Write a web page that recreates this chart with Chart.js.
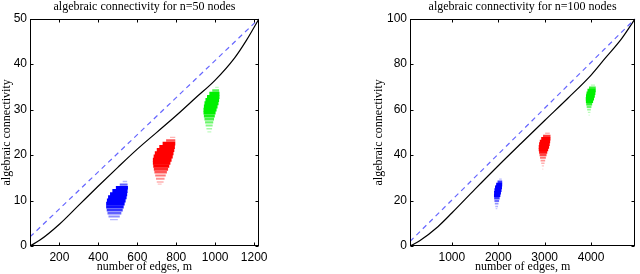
<!DOCTYPE html>
<html><head><meta charset="utf-8">
<script src="https://cdn.jsdelivr.net/npm/chart.js@4/dist/chart.umd.min.js"></script>
<style>
html,body{margin:0;padding:0;background:#fff;}
#wrap{position:relative;width:640px;height:274px;overflow:hidden;}
.box{position:absolute;top:0;width:320px;height:274px;}
canvas{display:block;}
</style></head><body>
<div id="wrap">
  <div class="box" style="left:0"><canvas id="c1" width="320" height="274"></canvas></div>
  <div class="box" style="left:320px"><canvas id="c2" width="320" height="274"></canvas></div>
</div>
<script>
// ---------- data ----------
const n50Title = 'algebraic connectivity for n=50 nodes';
const n100Title = 'algebraic connectivity for n=100 nodes';
const xTitle = 'number of edges, m';
const yTitle = 'algebraic connectivity';

const n50EdgeTicks = [200, 400, 600, 800, 1000, 1200];
const n50ConnTicks = [0, 10, 20, 30, 40, 50];
const n100EdgeTicks = [1000, 2000, 3000, 4000];
const n100ConnTicks = [0, 20, 40, 60, 80, 100];

const n50EdgeRange = [49, 1225];
const n50ConnRange = [0, 50];
const n100EdgeRange = [99, 4950];
const n100ConnRange = [0, 100];

// solid black curve
const n50BoundEdges = [49, 100, 200, 300, 400, 500, 600, 700, 800, 900, 1000, 1100, 1161, 1225];
const n50BoundConn  = [0, 1.3, 4.8, 9.0, 13.2, 17.3, 21.3, 25.0, 28.7, 32.6, 36.5, 41.4, 45.3, 50];
const n100BoundEdges = [99, 300, 700, 1000, 1500, 2000, 2500, 3000, 3500, 4000, 4300, 4650, 4950];
const n100BoundConn  = [0, 2.2, 8.5, 14.5, 25, 35.3, 45.3, 55.2, 65, 75.2, 82.5, 91, 100];

// blue dashed line
const n50RatioEdges = [49, 1225];
const n50RatioConn  = [2, 50];
const n100RatioEdges = [99, 4950];
const n100RatioConn  = [2, 100];

// sample clouds, rows: [connectivity, edges low, edges high, relative density]
const n50Blue = [
  [14.2, 525, 548, 0.15], [13.5, 510, 550, 0.45], [12.8, 490, 552, 0.85], [12.1, 472, 550, 1],
  [11.4, 460, 548, 1], [10.7, 450, 545, 1], [10.0, 444, 540, 1], [9.3, 440, 535, 0.9],
  [8.6, 440, 530, 0.75], [7.9, 443, 525, 0.6], [7.2, 447, 518, 0.45], [6.5, 452, 510, 0.3],
  [5.8, 460, 500, 0.15]
];
const n50Red = [
  [23.9, 768, 795, 0.15], [23.2, 748, 795, 0.5], [22.5, 730, 795, 0.9], [21.8, 713, 793, 1],
  [21.1, 700, 790, 1], [20.4, 690, 786, 1], [19.7, 684, 782, 1], [19.0, 680, 776, 1],
  [18.3, 680, 770, 0.9], [17.6, 682, 764, 0.8], [16.9, 685, 758, 0.65], [16.2, 688, 752, 0.5],
  [15.5, 692, 746, 0.38], [14.8, 696, 740, 0.28], [14.1, 700, 735, 0.18], [13.6, 705, 725, 0.1]
];
const n50Green = [
  [34.9, 1000, 1018, 0.12], [34.2, 985, 1020, 0.5], [33.5, 970, 1022, 0.9], [32.8, 958, 1022, 1],
  [32.1, 950, 1020, 1], [31.4, 945, 1017, 1], [30.7, 942, 1012, 1], [30.0, 940, 1007, 0.95],
  [29.3, 940, 1002, 0.85], [28.6, 942, 998, 0.7], [27.9, 945, 994, 0.55], [27.2, 948, 990, 0.42],
  [26.5, 951, 987, 0.32], [25.8, 955, 984, 0.22], [25.1, 960, 980, 0.12]
];
const n50Centers = [[488, 10.6], [735, 20.1], [979, 31.2]];

const n100Blue = [
  [29.4, 2020, 2075, 0.15], [28.2, 1985, 2085, 0.6], [27.0, 1955, 2085, 1], [25.8, 1932, 2080, 1],
  [24.6, 1918, 2070, 1], [23.4, 1910, 2058, 0.95], [22.2, 1908, 2045, 0.8], [21.0, 1912, 2030, 0.6],
  [19.8, 1918, 2018, 0.42], [18.6, 1926, 2005, 0.28], [17.4, 1936, 1995, 0.16], [16.4, 1945, 1980, 0.08]
];
const n100Red = [
  [49.6, 3010, 3110, 0.15], [48.4, 2965, 3125, 0.6], [47.2, 2925, 3125, 1], [46.0, 2895, 3118, 1],
  [44.8, 2880, 3108, 1], [43.6, 2872, 3095, 1], [42.4, 2872, 3075, 0.9], [41.2, 2880, 3055, 0.75],
  [40.0, 2890, 3040, 0.55], [38.8, 2900, 3025, 0.4], [37.6, 2912, 3010, 0.28], [36.4, 2925, 2998, 0.17],
  [35.2, 2938, 2985, 0.1], [33.8, 2950, 2970, 0.06]
];
const n100Green = [
  [70.8, 3995, 4085, 0.15], [69.6, 3955, 4100, 0.6], [68.4, 3922, 4100, 1], [67.2, 3902, 4092, 1],
  [66.0, 3890, 4080, 1], [64.8, 3885, 4063, 1], [63.6, 3888, 4043, 0.85], [62.4, 3895, 4023, 0.62],
  [61.2, 3905, 4007, 0.42], [60.0, 3915, 3995, 0.26], [58.8, 3930, 3985, 0.14], [57.6, 3945, 3970, 0.07]
];
const n100Centers = [[1993, 25.9], [2965, 44.7], [3965, 66.9]];

// ---------- rendering ----------
const SERIF = "'Liberation Serif', 'Times New Roman', serif";
const SANS = "'Liberation Sans', Arial, Helvetica, sans-serif";

const frameTicks = {
  id: 'frameTicks',
  afterDraw(chart) {
    const {ctx, chartArea: a, scales: {x, y}} = chart;
    ctx.save();
    ctx.strokeStyle = '#000';
    ctx.lineWidth = 1;
    const L = Math.round(a.left) + 0.5, R = Math.round(a.right) - 0.5;
    const T = Math.round(a.top) + 0.5, B = Math.round(a.bottom) - 0.5;
    ctx.strokeRect(L, T, R - L, B - T);
    const tl = 3;
    ctx.beginPath();
    x.ticks.forEach(t => {
      const px = Math.round(x.getPixelForValue(t.value)) + 0.5;
      ctx.moveTo(px, B); ctx.lineTo(px, B - tl);
      ctx.moveTo(px, T); ctx.lineTo(px, T + tl);
    });
    y.ticks.forEach(t => {
      const py = Math.round(y.getPixelForValue(t.value)) + 0.5;
      ctx.moveTo(L, py); ctx.lineTo(L + tl, py);
      ctx.moveTo(R, py); ctx.lineTo(R - tl, py);
    });
    ctx.stroke();
    ctx.restore();
  }
};

function cloudDatasets(rows, rgb, maxWidth) {
  return rows.map(r => ({
    data: [{x: r[1], y: r[0]}, {x: r[2], y: r[0]}],
    showLine: true,
    borderColor: `rgba(${rgb},${Math.min(1, 0.12 + r[3] * 1.1)})`,
    borderWidth: 1.0 + (maxWidth - 1.0) * r[3],
    borderCapStyle: 'butt',
    pointRadius: 0,
    pointHoverRadius: 0
  }));
}

function lineDataset(xs, ys, color, width, dash) {
  return {
    data: xs.map((m, i) => ({x: m, y: ys[i]})),
    showLine: true,
    borderColor: color,
    borderWidth: width,
    borderDash: dash || [],
    pointRadius: 0,
    pointHoverRadius: 0,
    cubicInterpolationMode: 'monotone'
  };
}

function makeChart(id, cfg) {
  const datasets = [
    ...cloudDatasets(cfg.blue, '0,0,255', cfg.stripe),
    ...cloudDatasets(cfg.red, '255,0,0', cfg.stripe),
    ...cloudDatasets(cfg.green, '0,240,0', cfg.stripe),
    lineDataset(cfg.ratioE, cfg.ratioC, '#6666ff', 1.2, [5, 4]),
    lineDataset(cfg.boundE, cfg.boundC, '#000', 1.2),
    {
      data: cfg.centers.map(c => ({x: c[0], y: c[1]})),
      showLine: false,
      pointStyle: 'circle',
      pointRadius: 2.3,
      pointBorderWidth: 0.8,
      pointBorderColor: '#000',
      pointBackgroundColor: 'rgba(0,0,0,0)'
    }
  ];
  return new Chart(document.getElementById(id), {
    type: 'scatter',
    data: {datasets},
    plugins: [frameTicks],
    options: {
      responsive: false,
      animation: false,
      events: [],
      layout: {padding: {left: cfg.padLeft, right: cfg.padRight, top: 0, bottom: 0}},
      plugins: {
        legend: {display: false},
        tooltip: {enabled: false},
        title: {
          display: true, text: cfg.title, fullSize: false, color: '#000',
          font: {family: SERIF, size: 12, weight: 'normal'},
          padding: {top: 0, bottom: 4.3}
        }
      },
      scales: {
        x: {
          type: 'linear', min: cfg.xRange[0], max: cfg.xRange[1],
          grid: {display: false, drawTicks: false}, border: {display: false},
          afterBuildTicks: s => { s.ticks = cfg.xTicks.map(v => ({value: v})); },
          afterFit: s => { s.height = 28; },
          ticks: {color: '#000', font: {family: SANS, size: 12}, padding: 4, maxRotation: 0, autoSkip: false,
                  callback: v => String(v)},
          title: {display: true, text: xTitle, color: '#000', font: {family: SERIF, size: 12}, padding: 0}
        },
        y: {
          type: 'linear', min: cfg.yRange[0], max: cfg.yRange[1],
          grid: {display: false, drawTicks: false}, border: {display: false},
          afterBuildTicks: s => { s.ticks = cfg.yTicks.map(v => ({value: v})); },
          afterFit: s => { s.width = cfg.yWidth; },
          ticks: {color: '#000', font: {family: SANS, size: 12}, padding: 3, autoSkip: false,
                  callback: v => String(v)},
          title: {display: true, text: yTitle, color: '#000', font: {family: SERIF, size: 12}, padding: 0}
        }
      }
    }
  });
}

makeChart('c1', {
  title: n50Title, xRange: n50EdgeRange, yRange: n50ConnRange,
  xTicks: n50EdgeTicks, yTicks: n50ConnTicks,
  boundE: n50BoundEdges, boundC: n50BoundConn, ratioE: n50RatioEdges, ratioC: n50RatioConn,
  blue: n50Blue, red: n50Red, green: n50Green, centers: n50Centers,
  padLeft: 0, padRight: 61, yWidth: 30, stripe: 4.0
});
makeChart('c2', {
  title: n100Title, xRange: n100EdgeRange, yRange: n100ConnRange,
  xTicks: n100EdgeTicks, yTicks: n100ConnTicks,
  boundE: n100BoundEdges, boundC: n100BoundConn, ratioE: n100RatioEdges, ratioC: n100RatioConn,
  blue: n100Blue, red: n100Red, green: n100Green, centers: n100Centers,
  padLeft: 52, padRight: 2, yWidth: 38, stripe: 3.6
});
</script>
</body></html>
